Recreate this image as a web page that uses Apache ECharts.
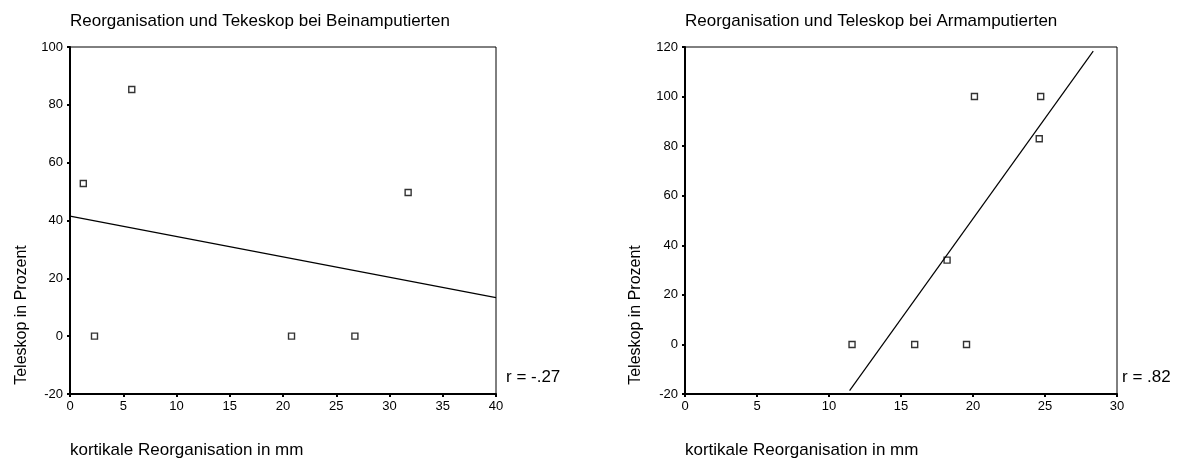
<!DOCTYPE html>
<html>
<head>
<meta charset="utf-8">
<script src="https://cdn.jsdelivr.net/npm/echarts@6/dist/echarts.min.js"></script>
<style>
html,body{margin:0;padding:0;background:#fff;}
#c{width:1177px;height:459px;}
</style>
</head>
<body>
<div id="c"></div>
<script>
// ---- data ----
var legTitle = 'Reorganisation und Tekeskop bei Beinamputierten';
var armTitle = 'Reorganisation und Teleskop bei Armamputierten';
var xAxisTitle = 'kortikale Reorganisation in mm';
var yAxisTitle = 'Teleskop in Prozent';
var legR = 'r = -.27';
var armR = 'r = .82';

var legX = [1.25, 5.8, 31.75, 2.3, 20.8, 26.75];
var legY = [52.8, 85.3, 49.7, 0, 0, 0];
var legFitX = [0, 40];
var legFitY = [41.5, 13.3];

var armX = [11.6, 15.95, 19.55, 18.2, 20.1, 24.7, 24.6];
var armY = [0, 0, 0, 34, 100, 100, 83];
var armFitX = [11.43, 28.35];
var armFitY = [-18.6, 118.3];

var legXRange = [0, 40], armXRange = [0, 30];
var legYRange = [-20, 100], armYRange = [-20, 120];
var xStep = 5, yStep = 20;

function pairs(xs, ys){ return xs.map(function(x,i){ return [x, ys[i]]; }); }

var FONT = 'Liberation Sans, Arial, Helvetica, sans-serif';
var chart = echarts.init(document.getElementById('c'), null, {renderer:'canvas'});

function xAxis(idx, range){
  return {
    type:'value', gridIndex:idx, min:range[0], max:range[1], interval:xStep,
    axisLine:{show:true, onZero:false, lineStyle:{color:'#000', width:2}},
    axisTick:{show:true, length:3, lineStyle:{color:'#000', width:2}},
    axisLabel:{color:'#000', fontSize:13, fontFamily:FONT, margin:6},
    splitLine:{show:false}
  };
}
function yAxis(idx, range){
  return {
    type:'value', gridIndex:idx, min:range[0], max:range[1], interval:yStep,
    axisLine:{show:true, onZero:false, lineStyle:{color:'#000', width:2}},
    axisTick:{show:true, length:3, lineStyle:{color:'#000', width:2}},
    axisLabel:{color:'#000', fontSize:13, fontFamily:FONT, margin:7},
    splitLine:{show:false}
  };
}
var ptStyle = {color:'#fff', borderColor:'#000', borderWidth:1.4};
var lnStyle = {color:'#000', width:1.2};

var ts = {color:'#000', fontSize:17, fontWeight:'normal', fontFamily:FONT};

function yTitle(cx, cy){
  return {
    type:'text', x:cx, y:cy, rotation:Math.PI/2,
    style:{text:yAxisTitle, fill:'#000', font:'16px ' + FONT, textAlign:'center', textVerticalAlign:'middle'}
  };
}

chart.setOption({
  animation:false,
  backgroundColor:'#fff',
  title:[
    {text:legTitle, left:70, top:13, textStyle:ts, padding:0},
    {text:armTitle, left:685, top:13, textStyle:ts, padding:0},
    {text:xAxisTitle, left:70, top:442, textStyle:ts, padding:0},
    {text:xAxisTitle, left:685, top:442, textStyle:ts, padding:0},
    {text:legR, left:506, top:369, textStyle:ts, padding:0},
    {text:armR, left:1122, top:369, textStyle:ts, padding:0}
  ],
  graphic:[yTitle(22, 315), yTitle(636, 315)],
  grid:[
    {left:70, top:47, width:426, height:347, show:true, borderColor:'#000', borderWidth:1, backgroundColor:'transparent'},
    {left:685, top:47, width:432, height:347, show:true, borderColor:'#000', borderWidth:1, backgroundColor:'transparent'}
  ],
  xAxis:[xAxis(0, legXRange), xAxis(1, armXRange)],
  yAxis:[yAxis(0, legYRange), yAxis(1, armYRange)],
  series:[
    {type:'line', xAxisIndex:0, yAxisIndex:0, data:pairs(legFitX, legFitY), symbol:'none', lineStyle:lnStyle, silent:true},
    {type:'scatter', xAxisIndex:0, yAxisIndex:0, data:pairs(legX, legY), symbol:'rect', symbolSize:6, itemStyle:ptStyle},
    {type:'line', xAxisIndex:1, yAxisIndex:1, data:pairs(armFitX, armFitY), symbol:'none', lineStyle:lnStyle, silent:true},
    {type:'scatter', xAxisIndex:1, yAxisIndex:1, data:pairs(armX, armY), symbol:'rect', symbolSize:6, itemStyle:ptStyle}
  ]
});
</script>
</body>
</html>
